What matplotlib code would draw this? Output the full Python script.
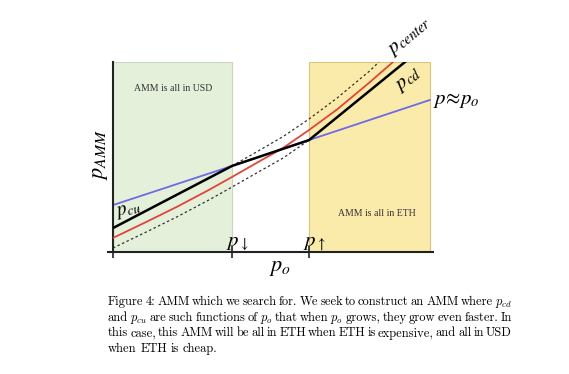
import matplotlib
matplotlib.use("Agg")
import matplotlib.pyplot as plt

# ---- data (x = p_o, y = p_AMM, both in arbitrary units 0..10) ----
p_down = 3.72
p_up = 6.125
x_end = 9.9

blue_x = [0, p_down, p_up, x_end]
blue_y = [2.47, 4.53, 5.89, 8.0]

black_x = [0, p_down, p_up, 9.125]
black_y = [1.26, 4.53, 5.89, 10.0]

red_x = [0, 1, 2, 3, p_down, 4.5, 5.31, p_up, 7, 8, 8.75]
red_y = [0.74, 1.55, 2.38, 3.27, 3.95, 4.7, 5.47, 6.42, 7.5, 8.9, 10.0]

upper_x = [p_down, 4.5, 5.31, p_up, 7, 8, 8.31]
upper_y = [4.53, 5.28, 6.07, 7.0, 8.1, 9.5, 10.0]

lower_x = [0, 1, 2, 3, p_down, 4.5, 5.31, p_up]
lower_y = [0.21, 1.02, 1.85, 2.74, 3.42, 4.17, 4.94, 5.89]

caption_lines = [
    "Figure 4: AMM which we search for. We seek to construct an AMM where $p_{cd}$",
    "and $p_{cu}$ are such functions of $p_o$ that when $p_o$ grows, they grow even faster. In",
    "this case, this AMM will be all in ETH when ETH is expensive, and all in USD",
    "when ETH is cheap.",
]

W, H = 569, 374
fig = plt.figure(figsize=(W / 100, H / 100), dpi=100)
fig.patch.set_facecolor("white")

# axes box in pixels: left 113, right 433, bottom 252, top 62
ax = fig.add_axes([113 / W, 1 - 252 / H, 320 / W, 190 / H])
ax.set_xlim(0, 10)
ax.set_ylim(0, 10)
ax.set_facecolor("none")

# shaded regions
ax.axvspan(0, p_down, facecolor="#e4f0d9", edgecolor="#c9d6bf", linewidth=0.8, zorder=0)
ax.axvspan(p_up, x_end, facecolor="#fbebab", edgecolor="#d8c47a", linewidth=0.8, zorder=0)

# curves
ax.plot(blue_x, blue_y, color="#6b6be6", lw=1.3, zorder=2)
ax.plot(lower_x, lower_y, color="#333333", lw=0.9, ls=(0, (2, 2)), zorder=2)
ax.plot(upper_x, upper_y, color="#333333", lw=0.9, ls=(0, (2, 2)), zorder=2)
ax.plot(red_x, red_y, color="#e0453a", lw=1.3, zorder=3)
ax.plot(black_x, black_y, color="black", lw=1.8, zorder=4)

# axes look
for s in ["top", "right"]:
    ax.spines[s].set_visible(False)
ax.spines["left"].set_linewidth(1.5)
ax.spines["bottom"].set_linewidth(1.5)
ax.spines["left"].set_color("#222222")
ax.spines["bottom"].set_color("#222222")
ax.spines["bottom"].set_bounds(-0.15, 10)
ax.set_xticks([0, p_down, p_up])
ax.set_xticklabels([])
ax.set_yticks([])
ax.tick_params(axis="x", direction="inout", length=9, width=1.2, color="#222222")
ax.set_clip_on(False)

mf = "stix"
ax.text(1.875, 8.58, "AMM is all in USD", fontsize=7, family="Liberation Serif",
        color="#333333", ha="center", va="center")
ax.text(8.25, 2.05, "AMM is all in ETH", fontsize=7, family="Liberation Serif",
        color="#333333", ha="center", va="center")

ax.text(p_down - 0.2, 0.3, r"$p_{\downarrow}$", fontsize=15, math_fontfamily=mf,
        ha="left", va="baseline")
ax.text(p_up - 0.2, 0.3, r"$p_{\uparrow}$", fontsize=15, math_fontfamily=mf,
        ha="left", va="baseline")

ax.text(8.72, 10.35, r"$p_{center}$", fontsize=15, math_fontfamily=mf, rotation=40,
        rotation_mode="anchor", ha="left", va="baseline", clip_on=False)
ax.text(8.95, 8.45, r"$p_{cd}$", fontsize=15, math_fontfamily=mf, rotation=38,
        rotation_mode="anchor", ha="left", va="baseline", clip_on=False)
ax.text(10.0, 7.8, r"$p\!\approx\!p_o$", fontsize=15, math_fontfamily=mf,
        ha="left", va="baseline", clip_on=False)
ax.text(0.12, 1.9, r"$p_{cu}$", fontsize=14, math_fontfamily=mf, rotation=14,
        rotation_mode="anchor", ha="left", va="baseline", clip_on=False)

fig.text(100 / W, 1 - 155 / H, r"$p_{AMM}$", fontsize=16, math_fontfamily=mf,
         rotation=90, ha="center", va="center")
fig.text(280 / W, 1 - 268 / H, r"$p_o$", fontsize=16, math_fontfamily=mf,
         ha="center", va="center")


# caption, justified like the LaTeX paragraph
def put_line(line, x0, x1, y, justify, size):
    r = fig.canvas.get_renderer()
    words = line.split(" ")
    arts = []
    widths = []
    for w in words:
        t = fig.text(0, 1 - y / H, w, fontsize=size, family="cmr10",
                     math_fontfamily="cm", va="baseline", ha="left")
        widths.append(t.get_window_extent(r).width)
        arts.append(t)
    if justify and len(words) > 1:
        gap = (x1 - x0 - sum(widths)) / (len(words) - 1)
    else:
        gap = size * 100 / 72 * 0.3
    x = x0
    for t, wd in zip(arts, widths):
        t.set_x(x / W)
        x += wd + gap


cap_size = 9.0
baselines = [305, 321, 336.5, 352]
for i, line in enumerate(caption_lines):
    put_line(line, 108, 512, baselines[i], i < len(caption_lines) - 1, cap_size)

fig.savefig("out.png", dpi=100)
